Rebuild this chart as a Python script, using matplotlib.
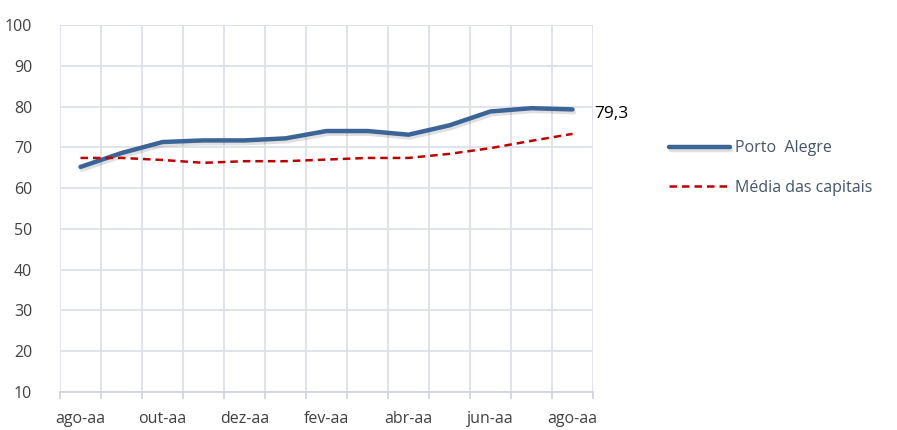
import matplotlib
matplotlib.use("Agg")
import matplotlib.pyplot as plt
import matplotlib.patheffects as pe
import numpy as np

months = ["ago-aa", "set-aa", "out-aa", "nov-aa", "dez-aa", "jan-aa", "fev-aa",
          "mar-aa", "abr-aa", "mai-aa", "jun-aa", "jul-aa", "ago-aa"]
porto_alegre = [65.2, 68.6, 71.3, 71.7, 71.7, 72.2, 74.0, 74.0, 73.1, 75.4, 78.8, 79.6, 79.3]
media_capitais = [67.4, 67.4, 66.9, 66.2, 66.6, 66.6, 67.0, 67.4, 67.4, 68.4, 69.8, 71.6, 73.3]
series_names = ["Porto  Alegre", "Média das capitais"]
end_label = "79,3"
yticks = list(range(10, 101, 10))

plt.rcParams['font.family'] = ['Open Sans', 'DejaVu Sans']

fig = plt.figure(figsize=(8.97, 4.30), dpi=100)
ax = fig.add_axes([60/897, 38/430, (593-60)/897, (392-25)/430])

x = np.arange(len(months))
grid_c = "#DDE1E7"

ax.plot(x, porto_alegre, color="#3B6596", lw=3.2, solid_capstyle="round",
        solid_joinstyle="round", zorder=3,
        path_effects=[pe.SimpleLineShadow(offset=(1, -2), shadow_color="#000000", alpha=0.12),
                      pe.Normal()], label=series_names[0])
ax.plot(x, media_capitais, color="#C00000", lw=1.8, ls=(0, (3, 2)), zorder=3,
        label=series_names[1])

ax.set_xlim(-0.5, len(months) - 0.5)
ax.set_ylim(10, 100)
ax.set_yticks(yticks)
ax.set_xticks(x[::2])
ax.set_xticklabels(months[::2])
ax.set_xticks(np.arange(-0.5, len(months)), minor=True)

ax.grid(True, which="minor", axis="x", color=grid_c, lw=1.3)
ax.grid(True, which="major", axis="y", color=grid_c, lw=1.3)
ax.set_axisbelow(True)
for s in ["top", "right", "left"]:
    ax.spines[s].set_visible(False)
ax.spines["bottom"].set_color("#D0D4DA")
ax.spines["bottom"].set_linewidth(1.3)

ax.tick_params(axis="x", which="major", length=0, pad=14, labelsize=11.5, labelcolor="#404040")
ax.tick_params(axis="x", which="minor", length=5, color="#D0D4DA", width=1.3)
ax.tick_params(axis="y", length=0, pad=20, labelsize=11.5, labelcolor="#404040")

ax.annotate(end_label, xy=(x[-1], porto_alegre[-1]), xytext=(16, -3),
            textcoords="offset points", fontsize=12.5, color="#000000",
            va="center", ha="left", annotation_clip=False)

leg = fig.legend(loc="upper left", bbox_to_anchor=(655/897, 1 - 126/430),
                 frameon=False, fontsize=11.5, handlelength=3.8, handletextpad=0.3,
                 labelspacing=1.45, labelcolor="#44546A")

fig.savefig("out.png", dpi=100)
